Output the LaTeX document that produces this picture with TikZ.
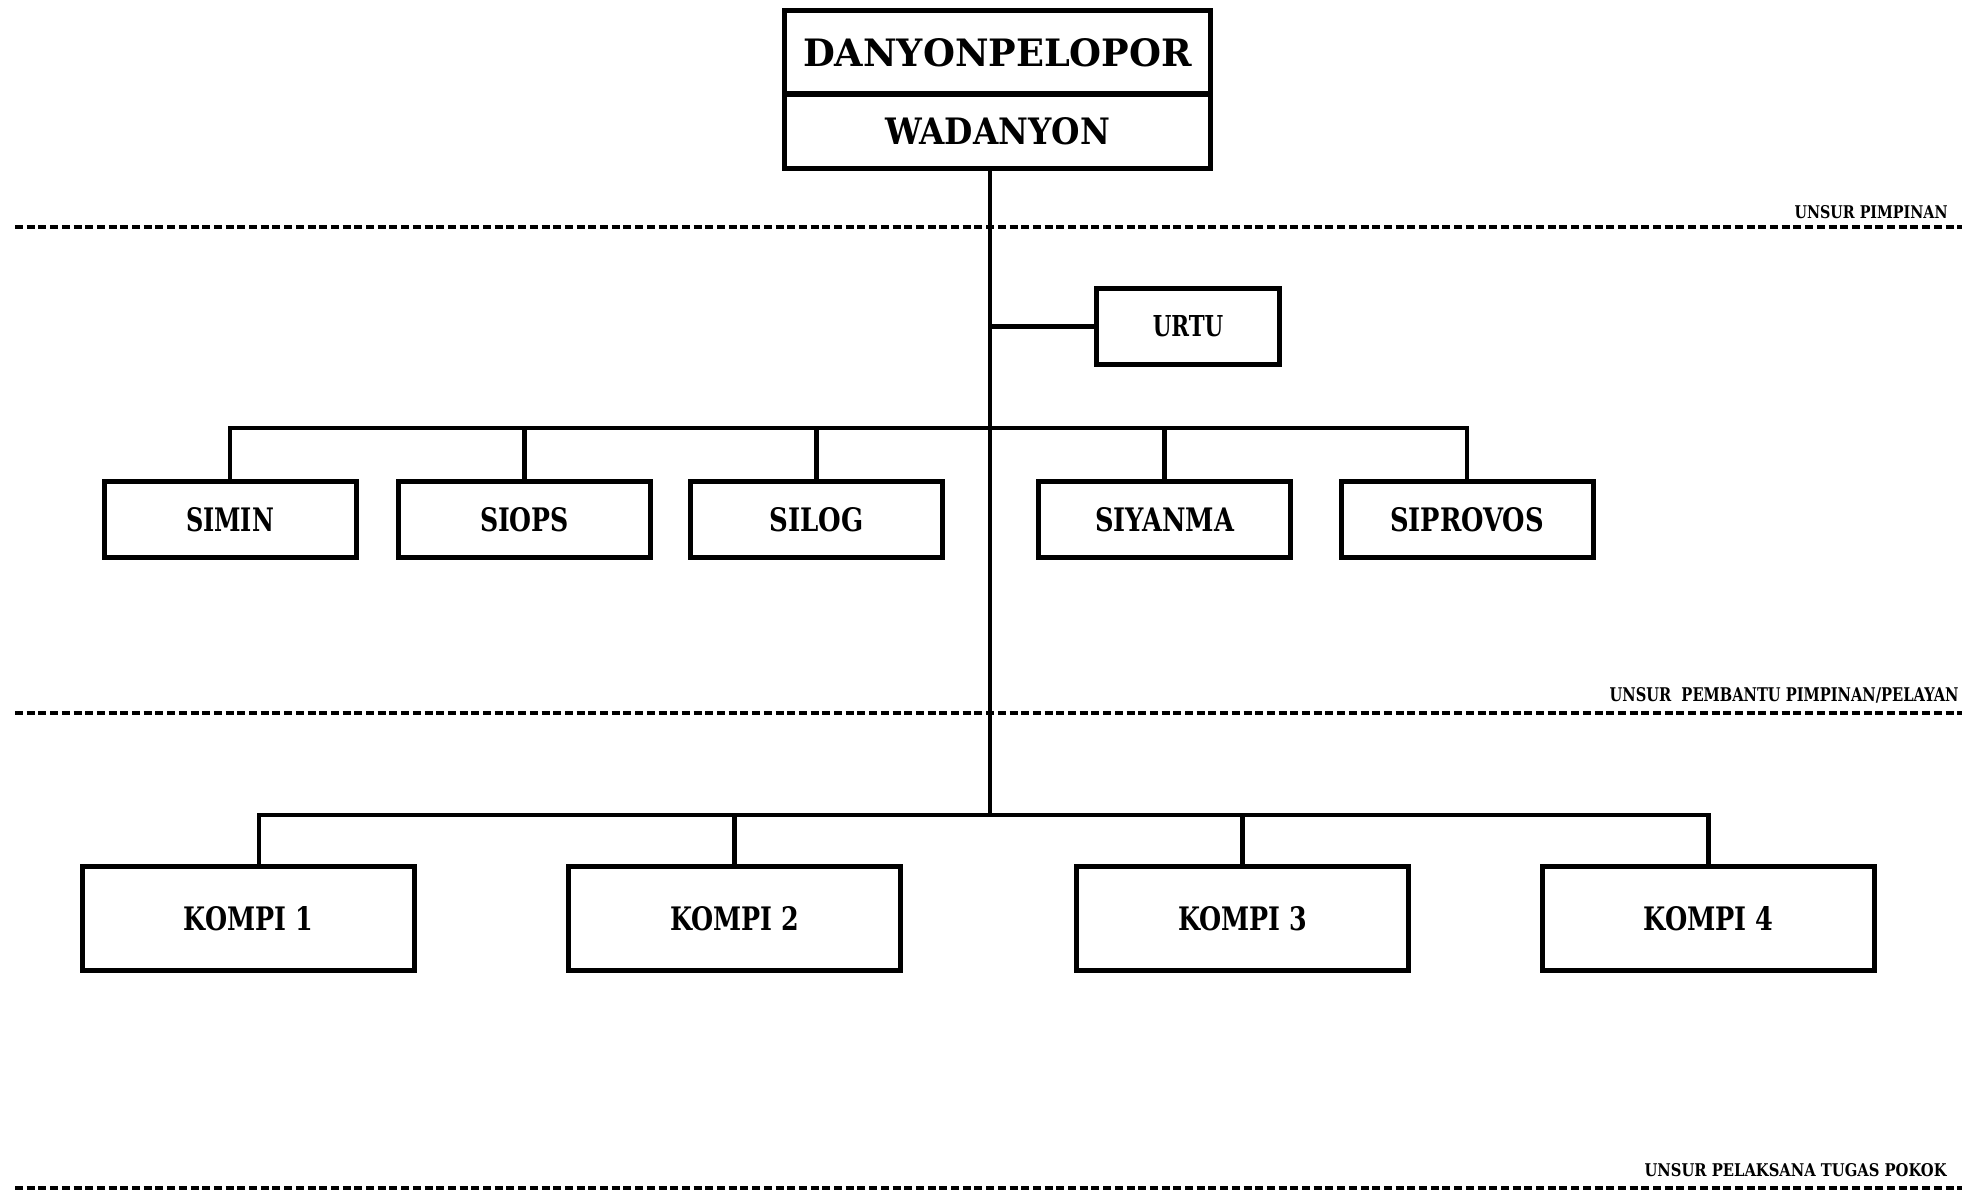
\documentclass[tikz,border=0pt]{standalone}
\usepackage{fontspec}
\setmainfont{DejaVu Serif}
\usepackage{graphicx}
\newlength\pxu
\setlength\pxu{0.5pt}
\newcommand\fitt[3]{\resizebox{#1\pxu}{#2\pxu}{\bfseries #3}}
\begin{document}
\begin{tikzpicture}[x=0.5pt,y=-0.5pt,
  box/.style={draw, line width=2.5pt, rectangle, inner sep=0pt},
  headbox/.style={box, minimum width=213pt},
  sibox/.style={box, minimum width=126pt, minimum height=38pt},
  kbox/.style={box, minimum width=166pt, minimum height=52pt},
  conn/.style={line width=2.3pt},
  sepline/.style={line width=1.9pt, dash pattern=on 4pt off 1.85pt},
  lbl/.style={anchor=east, inner sep=0pt}]
\useasboundingbox (0,0) rectangle (1979,1192);

% head
\node[headbox, minimum height=41.75pt] (dan) at (997.5,52.5) {\fitt{389}{28}{DANYONPELOPOR}};
\node[headbox, minimum height=37.5pt] (wad) at (997.5,131.5) {\fitt{225}{27}{WADANYON}};

% urtu
\node[box, minimum width=91.5pt, minimum height=38pt] (urtu) at (1188,326.5) {\fitt{70.5}{21}{URTU}};

% staff row
\node[sibox] (simin) at (230,519.5) {\fitt{88}{24}{SIMIN}};
\node[sibox] (siops) at (524.5,519.5) {\fitt{89}{24}{SIOPS}};
\node[sibox] (silog) at (816.5,519.5) {\fitt{94}{24}{SILOG}};
\node[sibox] (siyanma) at (1164.5,519.5) {\fitt{139}{24}{SIYANMA}};
\node[sibox] (siprovos) at (1467,519.5) {\fitt{154}{24}{SIPROVOS}};

% kompi row
\node[kbox] (k1) at (248.5,918.5) {\fitt{129}{24}{KOMPI 1}};
\node[kbox] (k2) at (734.5,918.5) {\fitt{129}{24}{KOMPI 2}};
\node[kbox] (k3) at (1242.5,918.5) {\fitt{129}{24}{KOMPI 3}};
\node[kbox] (k4) at (1708.5,918.5) {\fitt{130}{24}{KOMPI 4}};

% junctions
\coordinate (j1) at (990,428);
\coordinate (j2) at (990,815);
\coordinate (d1) at (259,815);

% connectors
\draw[conn] (wad.south -| j1) -- (j2);
\draw[conn] (j1 |- urtu.west) -- (urtu.west);
\draw[conn] (simin.north) -- (simin.north |- j1) -- (siprovos.north |- j1) -- (siprovos.north);
\draw[conn] (siops.north) -- (siops.north |- j1);
\draw[conn] (silog.north) -- (silog.north |- j1);
\draw[conn] (siyanma.north) -- (siyanma.north |- j1);
\draw[conn] (d1 |- k1.north) -- (d1) -- (k4.north |- j2) -- (k4.north);
\draw[conn] (k2.north) -- (k2.north |- j2);
\draw[conn] (k3.north) -- (k3.north |- j2);

% separators
\draw[sepline] (15,227) -- (1962,227);
\draw[sepline] (15,713) -- (1962,713);
\draw[sepline] (15,1188) -- (1962,1188);

\node[lbl] (l1) at (1948,212) {\fitt{153}{13}{UNSUR PIMPINAN}};
\node[lbl] (l2) at (1959,695) {\fitt{349}{14}{UNSUR\ \ PEMBANTU PIMPINAN/PELAYAN}};
\node[lbl] (l3) at (1947,1170) {\fitt{302}{13}{UNSUR PELAKSANA TUGAS POKOK}};
\end{tikzpicture}
\end{document}
